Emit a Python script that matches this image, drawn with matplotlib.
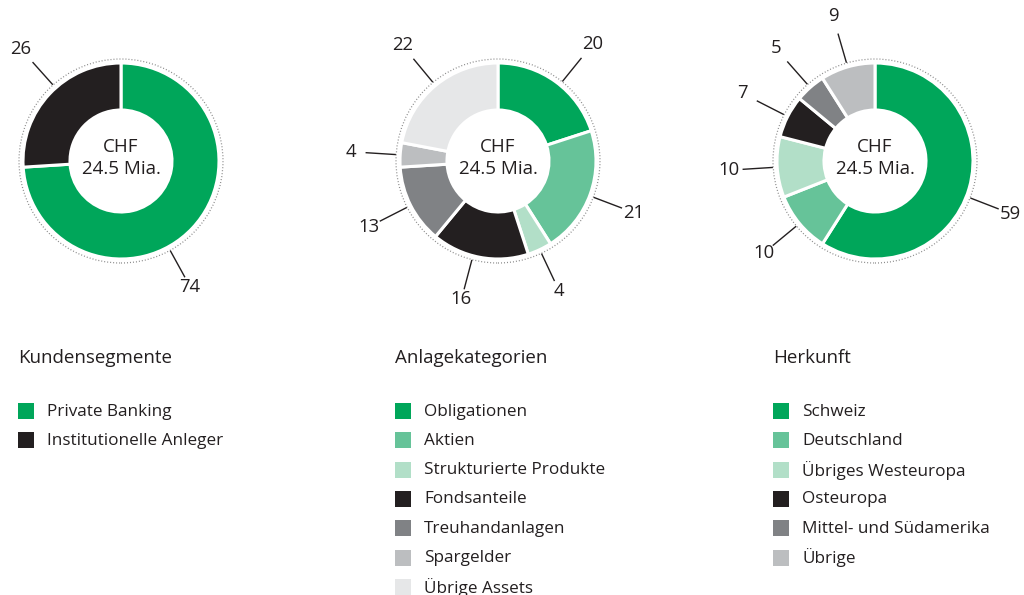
import numpy as np
import matplotlib.pyplot as plt
from matplotlib.patches import Circle, Rectangle

plt.rcParams['font.family'] = ['Open Sans', 'DejaVu Sans']

# data
titles = ["Kundensegmente", "Anlagekategorien", "Herkunft"]

seg_labels = ["Private Banking", "Institutionelle Anleger"]
seg_values = [74, 26]

anl_labels = ["Obligationen", "Aktien", "Strukturierte Produkte", "Fondsanteile",
              "Treuhandanlagen", "Spargelder", "Übrige Assets"]
anl_values = [20, 21, 4, 16, 13, 4, 22]

her_labels = ["Schweiz", "Deutschland", "Übriges Westeuropa", "Osteuropa",
              "Mittel- und Südamerika", "Übrige"]
her_values = [59, 10, 10, 7, 5, 9]

center_text = "CHF\n24.5 Mia."

GREEN = "#00a65a"
MID = "#66c399"
LIGHT = "#b2dfc8"
BLACK = "#231f20"
GREY = "#808285"
GREY2 = "#bcbec0"
GREY3 = "#e6e7e8"
TXT = "#231f20"

seg_colors = [GREEN, BLACK]
anl_colors = [GREEN, MID, LIGHT, BLACK, GREY, GREY2, GREY3]
her_colors = [GREEN, MID, LIGHT, BLACK, GREY, GREY2]

# small angle tweaks (deg) for the leader lines, like in the original layout
seg_shift = [-18, -5]
anl_shift = [-3, -1, 0, -4, 0, 0, 0]
her_shift = [-5, 0, 0, 0, 0, 0]

W, H = 1024, 595
fig = plt.figure(figsize=(W / 100, H / 100), dpi=100)
ax = fig.add_axes([0, 0, 1, 1])

charts = [
    (seg_values, seg_colors, seg_labels, seg_shift, 121, 18),
    (anl_values, anl_colors, anl_labels, anl_shift, 498, 395),
    (her_values, her_colors, her_labels, her_shift, 875, 773),
]

cy = H - 161
R = 98
for (vals, cols, labs, shift, cx, lx), title in zip(charts, titles):
    wedges, _ = ax.pie(vals, colors=cols, radius=R, center=(cx, cy),
                       startangle=90, counterclock=False,
                       wedgeprops=dict(width=47, edgecolor="white", linewidth=2.2))
    ax.add_patch(Circle((cx, cy), R + 4, fill=False, ec="#8a8a8a",
                        lw=0.9, ls=(0, (0.8, 1.6))))
    for w, v, s in zip(wedges, vals, shift):
        ang = np.deg2rad((w.theta1 + w.theta2) / 2 + s)
        d = np.array([np.cos(ang), np.sin(ang)])
        p0 = np.array([cx, cy]) + d * (R + 5)
        p1 = np.array([cx, cy]) + d * (R + 34)
        pt = np.array([cx, cy]) + d * (R + 49 + 4 * np.sin(ang))
        ax.plot([p0[0], p1[0]], [p0[1], p1[1]], color=TXT, lw=1)
        ax.text(pt[0], pt[1], str(v), ha="center", va="center",
                fontsize=13.3, color=TXT)
    ax.text(cx, cy + 3, center_text, ha="center", va="center",
            fontsize=13.5, color=TXT, linespacing=1.22)

    # legend block
    ax.text(lx, H - 358, title, ha="left", va="center", fontsize=13.5, color=TXT)
    for i, (lab, c) in enumerate(zip(labs, cols)):
        yy = H - (411 + i * 29.3)
        ax.add_patch(Rectangle((lx, yy - 8), 16, 16, color=c, lw=0))
        ax.text(lx + 29, yy - 0.5, lab, ha="left", va="center", fontsize=12.3, color=TXT)

ax.set_xlim(0, W)
ax.set_ylim(0, H)
ax.set_aspect("equal")
ax.axis("off")

fig.savefig("out.png", dpi=100)
